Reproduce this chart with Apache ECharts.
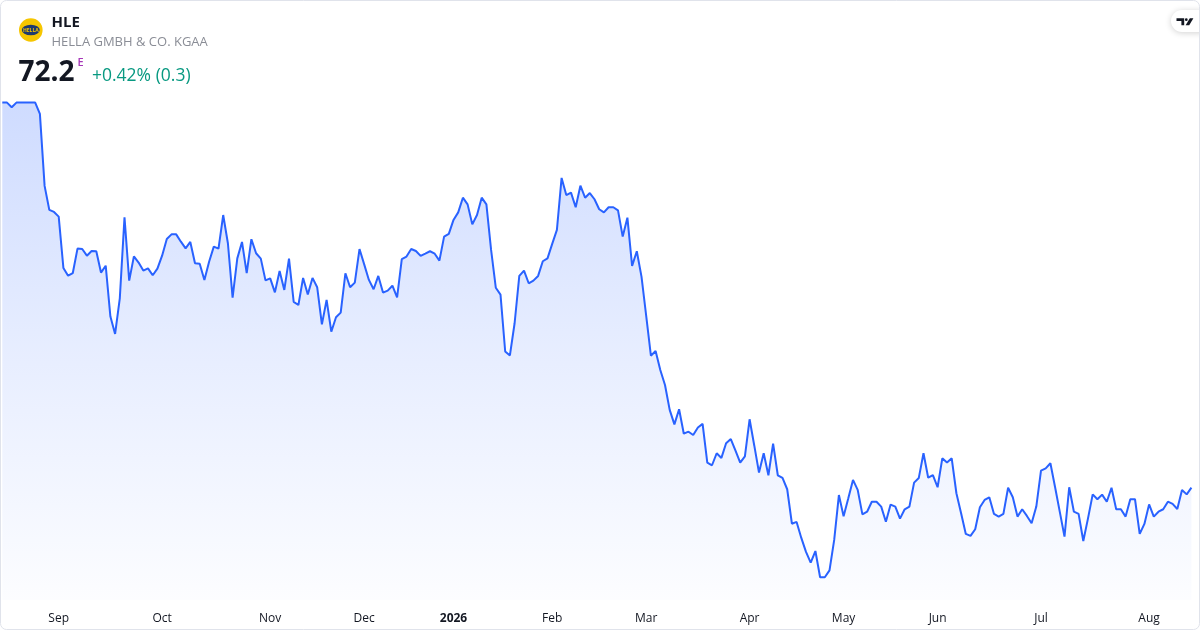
<!DOCTYPE html>
<html><head><meta charset="utf-8">
<script src="https://cdn.jsdelivr.net/npm/echarts@6/dist/echarts.min.js"></script>
<style>html,body{margin:0;padding:0;background:#fff}#c{width:1200px;height:630px}</style>
</head><body><div id="c"></div>
<script>
const firstDay = '2025-08-14';
const lastDay = '2026-08-14';
const holidays = ['2025-12-24','2025-12-25','2025-12-26','2025-12-31','2026-01-01','2026-04-03','2026-04-06','2026-05-01'];
const monthLabels = ['Jan','Feb','Mar','Apr','May','Jun','Jul','Aug','Sep','Oct','Nov','Dec'];
const ticker = 'HLE';
const companyName = 'HELLA GMBH & CO. KGAA';
const prices = [
89.53,89.53,89.32,89.53,89.53,89.53,89.53,89.53,89.02,85.78,
84.70,84.61,84.40,82.09,81.74,81.86,82.96,82.94,82.64,82.85,
82.84,81.88,82.19,79.90,79.12,80.72,84.37,81.52,82.61,82.33,
81.97,82.07,81.76,82.06,82.64,83.39,83.60,83.60,83.27,82.97,
83.26,82.30,82.28,81.55,82.37,83.05,82.96,84.47,83.20,80.75,
82.52,83.26,81.86,83.38,82.75,82.51,81.53,81.62,80.99,81.95,
81.10,82.51,80.56,80.42,81.64,80.89,81.64,81.22,79.55,80.65,
79.22,79.87,80.08,81.85,81.22,81.43,82.94,82.25,81.55,81.13,
81.73,80.98,81.07,81.29,80.77,82.49,82.60,82.94,82.85,82.63,
82.73,82.84,82.73,82.42,83.50,83.62,84.25,84.59,85.25,84.95,
84.05,84.47,85.25,84.95,82.90,81.20,80.89,78.33,78.15,79.60,
81.73,81.97,81.40,81.52,81.73,82.39,82.52,83.17,83.80,86.14,
85.37,85.48,84.82,85.79,85.25,85.46,85.18,84.73,84.59,84.82,
84.82,84.68,83.50,84.35,82.18,82.84,81.70,79.93,78.14,78.35,
77.50,76.82,75.70,75.05,75.73,74.63,74.72,74.57,74.91,75.07,
73.33,73.21,73.75,73.54,74.20,74.39,73.87,73.33,73.61,75.28,
74.09,72.88,73.75,72.76,74.18,72.76,72.64,72.13,70.58,70.66,
69.94,69.31,68.83,69.35,68.17,68.17,68.48,69.85,71.87,70.91,
71.72,72.55,72.10,71.00,71.12,71.57,71.57,71.35,70.67,71.44,
71.35,70.81,71.23,71.35,72.43,72.64,73.75,72.65,72.77,72.22,
73.52,73.33,73.52,71.95,71.05,70.12,70.03,70.33,71.32,71.65,
71.77,71.02,70.90,71.02,72.20,71.77,70.90,71.23,70.93,70.60,
71.35,72.97,73.07,73.30,72.22,71.11,70.00,72.22,71.12,71.02,
69.80,70.82,71.90,71.68,71.89,71.57,72.20,71.23,71.23,70.90,
71.68,71.68,70.12,70.57,71.45,70.90,71.12,71.23,71.57,71.47,
71.24,72.10,71.90,72.20
];

function tradingDays(a, b, skip) {
  const out = [];
  let d = new Date(a + 'T00:00:00Z');
  const end = new Date(b + 'T00:00:00Z');
  while (d <= end) {
    const wd = d.getUTCDay();
    const s = d.toISOString().slice(0, 10);
    if (wd !== 0 && wd !== 6 && skip.indexOf(s) < 0) out.push(s);
    d = new Date(d.getTime() + 86400000);
  }
  return out;
}
const dates = tradingDays(firstDay, lastDay, holidays);

const last = prices[prices.length - 1];
const prev = prices[prices.length - 2];
const chg = +(last - prev).toFixed(2);
const pct = (chg / prev * 100).toFixed(2);
const chgText = (chg >= 0 ? '+' : '') + pct + '% (' + chg + ')';

const FONT = '"Open Sans", "Noto Sans", sans-serif';
const chart = echarts.init(document.getElementById('c'), null, {renderer: 'canvas'});
chart.setOption({
  animation: false,
  backgroundColor: '#ffffff',
  grid: {left: 2.3, right: 8.6, top: 90, bottom: 30},
  xAxis: {
    type: 'category',
    data: dates,
    boundaryGap: false,
    axisLine: {show: false},
    axisTick: {show: false},
    splitLine: {show: false},
    axisLabel: {
      margin: 13,
      fontFamily: FONT,
      fontSize: 12,
      color: '#131722',
      interval: function (i) {
        if (i === 0) return false;
        return dates[i].slice(5, 7) !== dates[i - 1].slice(5, 7);
      },
      formatter: function (v) {
        const m = +v.slice(5, 7);
        return m === 1 ? '{y|' + v.slice(0, 4) + '}' : monthLabels[m - 1];
      },
      rich: {y: {fontWeight: 'bold', fontFamily: FONT, fontSize: 12, color: '#131722'}}
    }
  },
  yAxis: {
    type: 'value',
    min: 67.1465,
    max: 90.0965,
    show: false,
    splitLine: {show: false}
  },
  series: [{
    type: 'line',
    data: prices,
    showSymbol: false,
    symbol: 'none',
    lineStyle: {color: '#2962ff', width: 2},
    itemStyle: {color: '#2962ff'},
    areaStyle: {
      origin: 'start',
      color: new echarts.graphic.LinearGradient(0, 0, 0, 1, [
        {offset: 0, color: 'rgba(41,98,255,0.32)'},
        {offset: 0.5, color: 'rgba(41,98,255,0.16)'},
        {offset: 1, color: 'rgba(41,98,255,0.02)'}
      ])
    }
  }],
  graphic: [
    {type: 'circle', shape: {cx: 30.8, cy: 30, r: 11.8}, style: {fill: '#f6c600'}},
    {type: 'circle', shape: {cx: 0, cy: 0, r: 9}, x: 30.8, y: 30, scaleY: 0.58, style: {fill: '#1f3a6e'}},
    {type: 'text', x: 30.8, y: 30.3, style: {text: 'HELLA', fill: '#f6c600', font: 'bold 5px ' + FONT, align: 'center', verticalAlign: 'middle'}},
    {type: 'text', x: 51.5, y: 22.3, style: {text: ticker, fill: '#131722', font: 'bold 15px ' + FONT, verticalAlign: 'middle'}},
    {type: 'text', x: 51.5, y: 41.8, style: {text: companyName, fill: '#8a8d96', font: '13px ' + FONT, verticalAlign: 'middle'}},
    {type: 'text', x: 18.5, y: 73.5, style: {text: String(last), fill: '#131722', font: 'bold 28px ' + FONT, verticalAlign: 'middle'}},
    {type: 'text', x: 77.5, y: 62.5, style: {text: 'E', fill: '#a636b8', font: '600 11px ' + FONT, verticalAlign: 'middle'}},
    {type: 'text', x: 92, y: 76, style: {text: chgText, fill: '#089981', font: '17.5px ' + FONT, verticalAlign: 'middle'}},
    {type: 'rect', shape: {x: 1171, y: 10, width: 40, height: 22, r: 11}, style: {fill: '#ffffff', shadowBlur: 6, shadowColor: 'rgba(0,0,0,0.18)', shadowOffsetY: 1}},
    {type: 'polygon', shape: {points: [[1176.5,18.3],[1184.2,18.3],[1184.2,25.3],[1181.4,25.3],[1181.4,21],[1176.5,21]]}, style: {fill: '#131722'}},
    {type: 'circle', shape: {cx: 1186.3, cy: 19.7, r: 1.4}, style: {fill: '#131722'}},
    {type: 'polygon', shape: {points: [[1189.8,18.3],[1193.4,18.3],[1189.2,25.3],[1185.6,25.3]]}, style: {fill: '#131722'}},
    {type: 'rect', z: 100, shape: {x: 0.5, y: 0.5, width: 1199, height: 629, r: 6}, style: {fill: 'none', stroke: '#e0e3eb', lineWidth: 1}}
  ]
});
</script>
</body></html>
